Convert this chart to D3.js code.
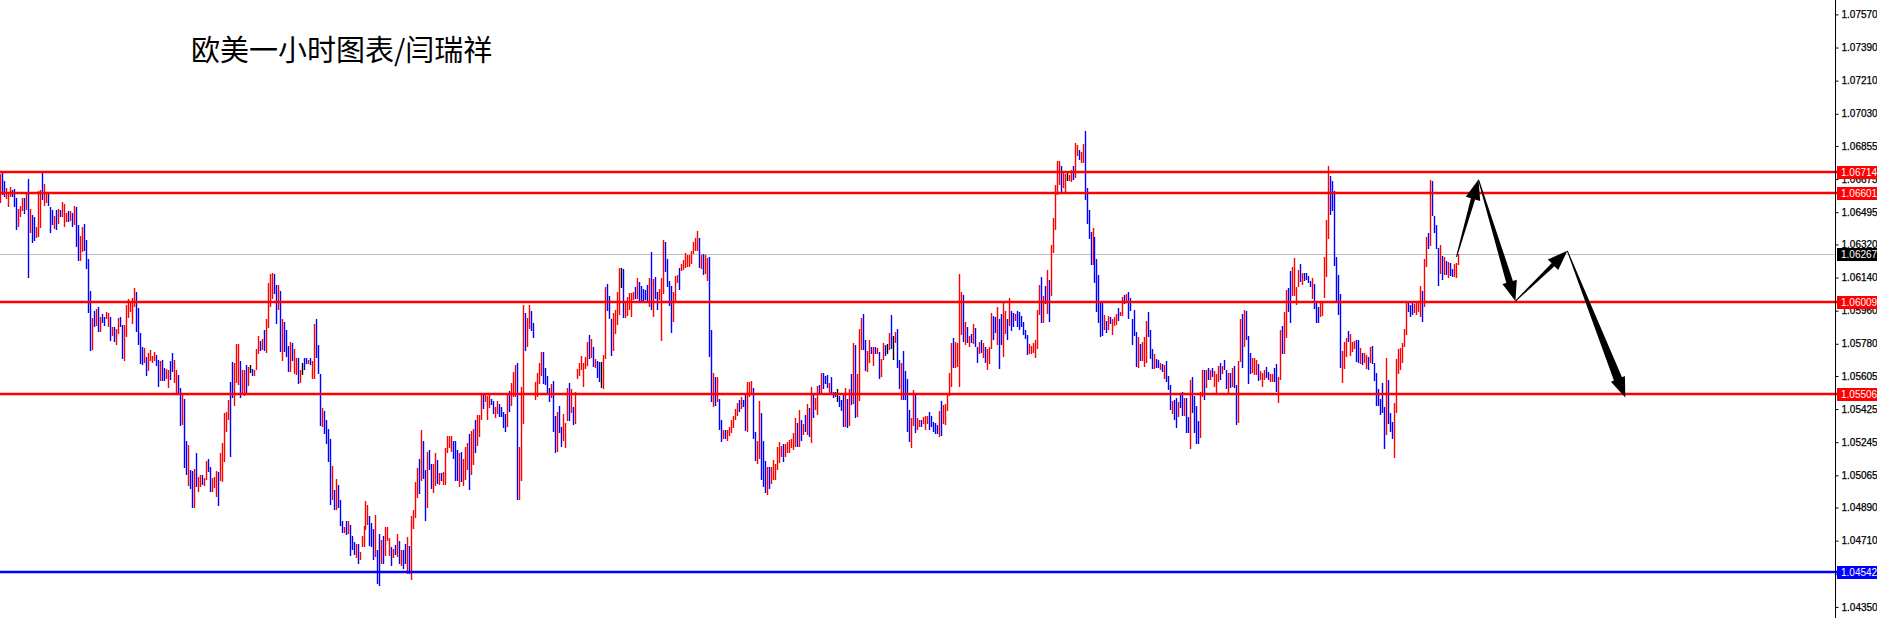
<!DOCTYPE html>
<html>
<head>
<meta charset="utf-8">
<script src="https://cdnjs.cloudflare.com/ajax/libs/d3/7.8.5/d3.min.js"></script>
<style>
  html, body { margin: 0; padding: 0; background: #fff; overflow: hidden; }
  svg { display: block; }
</style>
</head>
<body>
<svg id="chart" width="1877" height="618"></svg>
<script>
// hourly bars, EURUSD, oldest first
var highs = [
1.06701,1.06706,1.06667,1.06629,1.06607,1.06634,1.06616,1.06619,1.06572,1.06513,
1.06529,1.06571,1.06572,1.06592,1.06676,1.06513,1.06480,1.06471,1.06417,1.06610,
1.06616,1.06715,1.06648,1.06607,1.06601,1.06523,1.06507,1.06475,1.06507,1.06513,
1.06507,1.06552,1.06540,1.06493,1.06502,1.06502,1.06489,1.06529,1.06523,1.06426,
1.06366,1.06417,1.06429,1.06344,1.06241,1.06067,1.05918,1.05958,1.05969,1.05978,
1.05924,1.05942,1.05927,1.05954,1.05945,1.05924,1.05869,1.05873,1.05858,1.05918,
1.05924,1.05882,1.05882,1.05991,1.06022,1.06007,1.06029,1.06083,1.06061,1.05974,
1.05838,1.05762,1.05757,1.05708,1.05728,1.05746,1.05713,1.05737,1.05721,1.05692,
1.05688,1.05694,1.05646,1.05641,1.05637,1.05688,1.05732,1.05692,1.05636,1.05612,
1.05541,1.05511,1.05482,1.05251,1.05230,1.05094,1.05090,1.05097,1.05184,1.05054,
1.05067,1.05065,1.05048,1.05144,1.05154,1.05112,1.05052,1.05058,1.05090,1.05085,
1.05184,1.05239,1.05405,1.05411,1.05474,1.05570,1.05683,1.05674,1.05777,1.05779,
1.05686,1.05637,1.05637,1.05665,1.05655,
1.05667,1.05642,1.05636,1.05754,1.05821,1.05796,1.05805,1.05854,1.05912,1.06108,
1.06158,1.06162,1.06158,1.06098,1.06098,1.06066,1.05917,1.05896,1.05857,1.05767,
1.05789,1.05785,1.05754,1.05703,1.05703,1.05636,1.05674,1.05700,1.05702,1.05694,
1.05700,1.05687,1.05886,1.05914,1.05772,1.05618,1.05432,1.05414,1.05365,1.05316,
1.05263,1.05115,1.04984,1.05044,1.05011,1.04933,1.04817,1.04785,1.04817,1.04817,
1.04794,1.04736,1.04703,1.04694,1.04691,1.04649,1.04736,1.04788,1.04926,1.04903,
1.04845,1.04808,1.04776,1.04852,1.04658,1.04745,1.04716,1.04734,1.04785,1.04785,
1.04725,1.04676,1.04667,1.04685,1.04745,1.04709,1.04658,1.04658,1.04691,1.04730,
1.04681,1.04843,1.04875,1.05029,1.05105,1.05153,1.05310,1.05252,1.05093,1.05192,
1.05205,1.05125,1.05125,1.05187,1.05147,1.05075,1.05078,1.05084,1.05216,1.05278,
1.05279,1.05278,1.05250,1.05252,1.05202,1.05187,1.05192,1.05153,1.05220,1.05243,
1.05288,1.05307,1.05319,1.05365,1.05392,1.05392,1.05506,1.05506,1.05506,1.05495,
1.05506,1.05481,1.05470,1.05437,1.05470,
1.05452,1.05438,1.05410,1.05401,1.05506,1.05525,1.05568,1.05626,1.05664,1.05677,
1.05220,1.05543,1.05990,1.05949,1.05918,1.05990,1.05958,1.05894,1.05573,1.05622,
1.05677,1.05735,1.05737,1.05650,1.05604,1.05537,1.05564,1.05579,1.05389,1.05410,
1.05443,1.05329,1.05401,1.05351,1.05541,1.05568,1.05534,1.05434,1.05519,1.05642,
1.05673,1.05713,1.05673,1.05709,1.05791,1.05827,1.05804,1.05764,1.05695,1.05688,
1.05679,1.05679,1.05718,1.06086,1.06104,1.06039,1.05912,1.05945,1.05963,1.06061,
1.06190,1.06190,1.06184,1.05999,1.06032,1.06057,1.06057,1.06063,1.06090,1.06135,
1.06115,1.06094,1.06075,1.06072,1.06099,1.06135,1.06277,1.06130,1.06141,1.06059,
1.06077,1.06135,1.06344,1.06334,1.06238,1.06121,1.06094,1.06063,1.06148,1.06153,
1.06190,1.06211,1.06235,1.06275,1.06262,1.06262,1.06286,1.06334,1.06353,1.06392,
1.06356,1.06262,1.06267,1.06262,1.06244,1.06249,1.05854,1.05619,1.05597,1.05597,
1.05479,1.05365,1.05311,1.05311,1.05311,1.05329,1.05365,1.05387,1.05423,1.05459,
1.05474,1.05492,1.05477,1.05506,1.05573,
1.05573,1.05577,1.05541,1.05301,1.05251,1.05470,1.05405,1.05253,1.05144,1.05111,
1.05111,1.05111,1.05147,1.05129,1.05220,1.05247,1.05224,1.05234,1.05238,1.05247,
1.05256,1.05262,1.05296,1.05379,1.05350,1.05419,1.05365,1.05343,1.05392,1.05452,
1.05432,1.05546,1.05513,1.05486,1.05553,1.05555,1.05622,1.05622,1.05604,1.05608,
1.05568,1.05600,1.05519,1.05519,1.05532,1.05497,1.05474,1.05510,1.05537,1.05479,
1.05532,1.05615,1.05785,1.05773,1.05615,1.05860,1.05918,1.05941,1.05803,1.05742,
1.05803,1.05760,1.05760,1.05764,1.05758,1.05736,1.05695,1.05785,1.05773,1.05778,
1.05836,1.05936,1.05822,1.05845,1.05860,1.05691,1.05673,1.05742,1.05633,1.05591,
1.05419,1.05374,1.05528,1.05506,1.05374,1.05365,1.05365,1.05383,1.05387,1.05388,
1.05407,1.05388,1.05356,1.05347,1.05338,1.05414,1.05470,1.05446,1.05452,1.05501,
1.05622,1.05785,1.05814,1.05791,1.05782,1.06159,1.06062,1.06044,1.05899,1.05869,
1.05822,1.05832,1.05887,1.05863,1.05764,1.05791,1.05800,1.05782,1.05760,1.05754,
1.05760,1.05948,1.05930,1.05927,1.05981,1.05914,
1.05941,1.05999,1.05957,1.05917,1.06030,1.05957,1.05945,1.05941,1.05957,1.05954,
1.05930,1.05898,1.05854,1.05827,1.05778,1.05769,1.05785,1.05803,1.05966,1.06099,
1.06144,1.06039,1.06093,1.06180,1.06126,1.06316,1.06465,1.06642,1.06773,1.06773,
1.06746,1.06715,1.06702,1.06715,1.06698,1.06724,1.06746,1.06872,1.06860,1.06833,
1.06823,1.06865,1.06938,1.06624,1.06506,1.06389,1.06407,1.06358,1.06240,1.06153,
1.06008,1.06008,1.05936,1.05905,1.05930,1.05927,1.05912,1.05927,1.05941,1.05977,
1.05954,1.06035,1.06044,1.06053,1.06059,1.06030,1.05917,1.05963,1.05845,1.05818,
1.05778,1.05787,1.05818,1.05905,1.05954,1.05854,1.05754,1.05727,1.05696,1.05691,
1.05673,1.05669,1.05664,1.05687,1.05606,1.05555,1.05470,1.05477,1.05483,1.05464,
1.05501,1.05519,1.05486,1.05488,1.05383,1.05582,1.05597,1.05495,1.05441,1.05361,
1.05519,1.05637,1.05640,1.05640,1.05646,1.05640,1.05649,1.05633,1.05615,1.05658,
1.05673,1.05658,1.05691,1.05637,1.05619,1.05619,1.05649,1.05658,1.05555,1.05687,
1.05914,1.05941,1.05963,1.05959,1.05821,
1.05731,1.05700,1.05700,1.05691,1.05670,1.05633,1.05623,1.05637,1.05652,1.05628,
1.05615,1.05615,1.05650,1.05670,1.05601,1.05855,1.05876,1.05954,1.06072,1.06081,
1.06177,1.06199,1.06244,1.06090,1.06181,1.06213,1.06166,1.06166,1.06163,1.06148,
1.06123,1.06135,1.06105,1.06009,1.05981,1.06009,1.06014,1.06253,1.06452,1.06746,
1.06692,1.06666,1.06612,1.06253,1.06154,1.06048,1.05742,1.05791,1.05813,1.05849,
1.05831,1.05791,1.05795,1.05800,1.05800,1.05755,1.05728,1.05731,1.05719,1.05706,
1.05760,1.05768,1.05673,1.05623,1.05532,1.05478,1.05568,1.05438,1.05702,1.05583,
1.05405,1.05356,1.05456,1.05695,1.05749,1.05755,1.05782,1.05858,1.06009,1.06014,
1.05990,1.05999,1.05996,1.06003,1.06009,1.06094,1.06068,1.06239,1.06362,1.06384,
1.06670,1.06666,1.06474,1.06425,1.06298,1.06317,1.06257,1.06253,1.06230,1.06226,
1.06217,1.06184,1.06213,1.06217,1.06268
];
var lows = [
1.06547,1.06589,1.06580,1.06565,1.06525,1.06580,1.06580,1.06525,1.06398,1.06417,
1.06467,1.06502,1.06485,1.06507,1.06139,1.06384,1.06330,1.06339,1.06353,1.06359,
1.06411,1.06561,1.06529,1.06547,1.06529,1.06384,1.06426,1.06402,1.06398,1.06431,
1.06467,1.06471,1.06417,1.06444,1.06444,1.06449,1.06413,1.06426,1.06308,1.06232,
1.06232,1.06281,1.06286,1.06185,1.05949,1.05742,1.05746,1.05869,1.05877,1.05846,
1.05846,1.05895,1.05878,1.05913,1.05873,1.05797,1.05822,1.05790,1.05773,1.05833,
1.05869,1.05697,1.05688,1.05815,1.05922,1.05951,1.05886,1.05978,1.05846,1.05773,
1.05670,1.05665,1.05677,1.05607,1.05634,1.05686,1.05674,1.05688,1.05661,1.05547,
1.05579,1.05579,1.05579,1.05588,1.05538,1.05583,1.05625,1.05565,1.05511,1.05511,
1.05331,1.05338,1.05106,1.05065,1.05007,1.04990,1.04885,1.04890,1.05000,1.04972,
1.05000,1.05012,1.05007,1.05039,1.05085,1.04976,1.04972,1.04994,1.04945,1.04900,
1.05034,1.05027,1.05139,1.05302,1.05366,1.05166,1.05487,1.05442,1.05565,1.05556,
1.05487,1.05511,1.05498,1.05511,1.05550,
1.05622,1.05604,1.05604,1.05636,1.05723,1.05741,1.05745,1.05741,1.05731,1.05867,
1.05981,1.06021,1.06050,1.05890,1.05966,1.05736,1.05687,1.05736,1.05709,1.05627,
1.05627,1.05687,1.05618,1.05613,1.05562,1.05568,1.05609,1.05636,1.05669,1.05669,
1.05667,1.05587,1.05591,1.05703,1.05618,1.05332,1.05325,1.05292,1.05234,1.05138,
1.04903,1.04933,1.04875,1.04875,1.04890,1.04790,1.04754,1.04749,1.04739,1.04745,
1.04627,1.04658,1.04631,1.04618,1.04585,1.04607,1.04676,1.04676,1.04770,1.04797,
1.04681,1.04676,1.04607,1.04622,1.04477,1.04464,1.04585,1.04585,1.04625,1.04709,
1.04625,1.04573,1.04616,1.04631,1.04622,1.04585,1.04571,1.04558,1.04585,1.04531,
1.04527,1.04498,1.04776,1.04834,1.04944,1.04962,1.05035,1.05044,1.04817,1.04890,
1.05093,1.04993,1.04970,1.05006,1.05020,1.05011,1.05035,1.05011,1.05011,1.05187,
1.05211,1.05192,1.05156,1.05035,1.05035,1.05002,1.05030,1.05006,1.05042,1.05096,
1.04988,1.05066,1.05120,1.05187,1.05225,1.05274,1.05368,1.05428,1.05464,1.05368,
1.05433,1.05446,1.05401,1.05374,1.05397,
1.05383,1.05383,1.05320,1.05302,1.05329,1.05410,1.05441,1.05492,1.05492,1.04930,
1.04930,1.05035,1.05343,1.05742,1.05760,1.05858,1.05851,1.05813,1.05474,1.05492,
1.05564,1.05604,1.05559,1.05555,1.05506,1.05465,1.05483,1.05302,1.05184,1.05193,
1.05293,1.05220,1.05253,1.05211,1.05361,1.05361,1.05405,1.05338,1.05342,1.05590,
1.05604,1.05637,1.05546,1.05641,1.05660,1.05695,1.05700,1.05655,1.05651,1.05595,
1.05573,1.05537,1.05532,1.05695,1.05959,1.05914,1.05713,1.05742,1.05833,1.05882,
1.05936,1.06084,1.05918,1.05918,1.05932,1.05963,1.05923,1.06017,1.06026,1.06023,
1.06008,1.06014,1.06003,1.06017,1.05999,1.05981,1.05963,1.05923,1.06026,1.05963,
1.06017,1.05796,1.06050,1.06171,1.06086,1.05985,1.05840,1.05900,1.06008,1.06108,
1.06072,1.06177,1.06180,1.06190,1.06199,1.06199,1.06213,1.06267,1.06286,1.06286,
1.06190,1.06184,1.06153,1.06159,1.06122,1.05709,1.05465,1.05434,1.05443,1.05465,
1.05314,1.05244,1.05260,1.05260,1.05253,1.05278,1.05293,1.05320,1.05365,1.05387,
1.05410,1.05423,1.05434,1.05307,1.05302,
1.05492,1.05506,1.05265,1.05144,1.05129,1.05156,1.05039,1.05000,1.04970,1.04960,
1.04990,1.05020,1.05040,1.05039,1.05093,1.05133,1.05162,1.05138,1.05166,1.05187,
1.05184,1.05214,1.05202,1.05220,1.05220,1.05220,1.05253,1.05283,1.05301,1.05283,
1.05274,1.05242,1.05379,1.05419,1.05392,1.05510,1.05501,1.05532,1.05561,1.05542,
1.05510,1.05506,1.05483,1.05492,1.05465,1.05437,1.05414,1.05329,1.05329,1.05320,
1.05332,1.05446,1.05452,1.05374,1.05383,1.05470,1.05745,1.05745,1.05633,1.05628,
1.05677,1.05724,1.05658,1.05724,1.05727,1.05591,1.05600,1.05691,1.05713,1.05724,
1.05745,1.05754,1.05691,1.05785,1.05646,1.05532,1.05477,1.05477,1.05474,1.05301,
1.05247,1.05216,1.05332,1.05296,1.05314,1.05325,1.05329,1.05343,1.05314,1.05343,
1.05314,1.05329,1.05298,1.05292,1.05289,1.05271,1.05280,1.05343,1.05341,1.05416,
1.05495,1.05546,1.05646,1.05646,1.05655,1.05546,1.05827,1.05791,1.05773,1.05785,
1.05764,1.05785,1.05778,1.05760,1.05673,1.05724,1.05731,1.05700,1.05673,1.05640,
1.05669,1.05749,1.05800,1.05836,1.05773,1.05642,
1.05773,1.05709,1.05832,1.05800,1.05876,1.05850,1.05872,1.05905,1.05872,1.05854,
1.05869,1.05825,1.05805,1.05718,1.05727,1.05727,1.05731,1.05705,1.05753,1.05937,
1.05894,1.05894,1.05995,1.05941,1.05899,1.06039,1.06271,1.06401,1.06588,1.06642,
1.06597,1.06624,1.06606,1.06666,1.06666,1.06660,1.06669,1.06679,1.06800,1.06778,
1.06764,1.06764,1.06561,1.06430,1.06349,1.06209,1.06207,1.06111,1.05954,1.05894,
1.05818,1.05823,1.05854,1.05840,1.05854,1.05887,1.05827,1.05876,1.05881,1.05903,
1.05932,1.05930,1.05995,1.05999,1.05912,1.05957,1.05773,1.05821,1.05655,1.05646,
1.05687,1.05687,1.05655,1.05678,1.05818,1.05695,1.05642,1.05642,1.05646,1.05646,
1.05637,1.05628,1.05591,1.05573,1.05528,1.05419,1.05401,1.05365,1.05320,1.05383,
1.05432,1.05387,1.05387,1.05296,1.05296,1.05207,1.05405,1.05296,1.05238,1.05238,
1.05269,1.05492,1.05474,1.05542,1.05582,1.05582,1.05600,1.05546,1.05510,1.05573,
1.05582,1.05615,1.05637,1.05532,1.05510,1.05541,1.05546,1.05542,1.05341,1.05347,
1.05682,1.05646,1.05763,1.05800,1.05564,
1.05615,1.05619,1.05610,1.05610,1.05579,1.05583,1.05543,1.05583,1.05592,1.05583,
1.05574,1.05574,1.05574,1.05519,1.05460,1.05583,1.05724,1.05724,1.05809,1.05954,
1.05894,1.06039,1.06039,1.05990,1.06090,1.06117,1.06099,1.06123,1.06126,1.06112,
1.06086,1.06021,1.05967,1.05894,1.05894,1.05927,1.05931,1.06027,1.06144,1.06347,
1.06480,1.06503,1.06202,1.05999,1.05936,1.05646,1.05565,1.05643,1.05706,1.05791,
1.05713,1.05737,1.05749,1.05682,1.05677,1.05670,1.05664,1.05673,1.05641,1.05637,
1.05677,1.05670,1.05579,1.05441,1.05443,1.05392,1.05402,1.05206,1.05284,1.05342,
1.05302,1.05260,1.05157,1.05402,1.05614,1.05637,1.05673,1.05764,1.05827,1.05954,
1.05923,1.05936,1.05945,1.05936,1.05954,1.05927,1.05900,1.05981,1.06195,1.06293,
1.06311,1.06474,1.06384,1.06293,1.06094,1.06159,1.06126,1.06154,1.06154,1.06135,
1.06148,1.06141,1.06141,1.06135,1.06208
];
// r = bull bar, b = bear bar, k = open equals close
var dirs = (
  "rbbrrrbbbrrrbrbrbbrrrbrrbbbrbrbrrrbrbrbbrrbbbbrbrbrbbrrbrbrrbbrrrrrrbbbbrbrrrrbbrbbrrbbrrbbrbbrbbrbrrbrrbbrrrbrrrrrbbrrrbrrbr" +
  "kbrrrbrbrrrrbbrbrbbbrbrrbrkbbrbrrbbbrbbbbrbrbbbrbrbbbrbrrrrrbbbrbbrbrrrbrbrbrbbrbrrrrbrbbrbbrrbrbrrrrrbbbrbrrrbrrbrrrbrrrbbrr" +
  "bbbbrbrrrbrrrbrrbbrrrrbbbbrbbrbbrrrbrbrrrrrrrbrbrbbkrrbbbrrrrkbrrrrrbrbbbbbrbrbbrrrbbbbrrrbrrrrrrrrrbrbrrbbrbrbbrbrrrrrrbrbbr" +
  "rrbbrrbbbrbrrrrrrbrrrrrrbrbrbrbrbrrbrbbbrbbbkbbbrbrbrbrrrbbrrbrbrbrrbkrbkrbbrbbbbrrbrrbrrrbbbbbrbrrrrrbrrrrbrbrbrbbrbrbrrrbbrb" +
  "brrbrbbrbbbbbbrrrrrrbrbrbrrrrrbrrkrrbrrbrrbbbbrbbbbbrbrbrrrbrrbrbbbbbrbrrrbbbrbbrbrbbbrbbrbbrbbrbbbbrrbrbrbrrrbrbbrbrbbrrbrbb" +
  "brrrbrrrbbrrbbrrbrrbbrrrrbrbbbbrbbbrrrrrbbbbbbrrrbrrrbbrbrrbrbbbbbbbrbbbrrrrrrrbbbrrrrbrrbrbbbbrbrbrbbrrr"
).split("");

var axisTicks = [1.07570, 1.07390, 1.07210, 1.07030, 1.06855, 1.06675, 1.06495, 1.06320, 1.06140,
                 1.05960, 1.05780, 1.05605, 1.05425, 1.05245, 1.05065, 1.04890, 1.04710, 1.04530, 1.04350];
var resistance = [1.06714, 1.06601, 1.06009, 1.05506];
var support = 1.04542;
var bid = 1.06267;
// hand drawn path of the forecast, bar index / price
var pathIdx = [729, 740, 758.5, 784.5, 813.5];
var pathPrice = [1.06252, 1.06672, 1.06012, 1.06285, 1.05488];
var title = "欧美一小时图表/闫瑞祥";

var svg = d3.select("#chart"),
    width = +svg.attr("width"),
    height = +svg.attr("height"),
    axisX = 1835;

var y = d3.scaleLinear().domain([1.04350, 1.07570]).range([606.9, 14.4]);
var x = d3.scaleLinear().domain([0, highs.length - 1]).range([0.5, 1458.5]);
var colors = { r: "#ff0000", b: "#0000ff", k: "#000000" };
var px = function(v) { return Math.round(y(v)); };

svg.append("rect").attr("width", width).attr("height", height).attr("fill", "#fff");

// bid line sits behind the bars
svg.append("line")
    .attr("x1", 0).attr("x2", axisX)
    .attr("y1", px(bid) + 0.5).attr("y2", px(bid) + 0.5)
    .attr("stroke", "#c0c0c0").attr("stroke-width", 1);

svg.append("g")
  .selectAll("rect")
  .data(highs)
  .enter().append("rect")
    .attr("x", function(d, i) { return Math.floor(x(i)) - 0.2; })
    .attr("y", function(d) { return px(d); })
    .attr("width", 1.4)
    .attr("height", function(d, i) { return Math.max(1, px(lows[i]) - px(d)); })
    .attr("fill", function(d, i) { return colors[dirs[i]]; });

var levels = svg.append("g");
levels.selectAll("rect.res")
  .data(resistance)
  .enter().append("rect")
    .attr("class", "res")
    .attr("x", 0).attr("width", axisX + 2)
    .attr("y", function(d) { return px(d) - 1.25; })
    .attr("height", 2.5)
    .attr("fill", "#ff0000");

levels.append("rect")
    .attr("x", 0).attr("width", axisX + 2)
    .attr("y", px(support) - 1.25).attr("height", 2.5)
    .attr("fill", "#0000ff");

// forecast arrows
function arrowShape(p0, p1) {
    var dx = p1[0] - p0[0], dy = p1[1] - p0[1];
    var len = Math.sqrt(dx * dx + dy * dy);
    var ux = dx / len, uy = dy / len, nx = -uy, ny = ux;
    var headL = 20, headW = 15, w0 = 1, w1 = Math.max(4, len * 0.055);
    var bx = p1[0] - ux * headL, by = p1[1] - uy * headL;
    var pts = [
        [p0[0] + nx * w0 / 2, p0[1] + ny * w0 / 2],
        [bx + nx * w1 / 2, by + ny * w1 / 2],
        [bx + nx * headW / 2, by + ny * headW / 2],
        [p1[0], p1[1]],
        [bx - nx * headW / 2, by - ny * headW / 2],
        [bx - nx * w1 / 2, by - ny * w1 / 2],
        [p0[0] - nx * w0 / 2, p0[1] - ny * w0 / 2]
    ];
    return "M" + pts.map(function(p) { return p[0].toFixed(1) + "," + p[1].toFixed(1); }).join("L") + "Z";
}
var pathPts = pathIdx.map(function(d, i) { return [x(d), y(pathPrice[i])]; });
svg.append("g").selectAll("path")
  .data(d3.pairs(pathPts))
  .enter().append("path")
    .attr("d", function(d) { return arrowShape(d[0], d[1]); })
    .attr("fill", "#000");

// price scale
svg.append("line")
    .attr("x1", axisX + 0.5).attr("x2", axisX + 0.5)
    .attr("y1", 0).attr("y2", height)
    .attr("stroke", "#000").attr("stroke-width", 1);

var yAxis = svg.append("g")
    .attr("transform", "translate(" + (axisX + 0.5) + ",0)")
    .call(d3.axisRight(y).tickValues(axisTicks).tickFormat(d3.format(".5f")).tickSize(3).tickPadding(3));
yAxis.select(".domain").remove();
yAxis.selectAll("text")
    .attr("font-family", "Liberation Sans, Arial, sans-serif")
    .attr("font-size", "10px")
    .attr("fill", "#000")
    .attr("stroke", "#000")
    .attr("stroke-width", 0.25);

function priceTag(value, bg) {
    var g = svg.append("g").attr("transform", "translate(" + (axisX + 2) + "," + px(value) + ")");
    g.append("rect").attr("x", 0).attr("y", -6).attr("width", width - axisX - 2).attr("height", 13).attr("fill", bg);
    g.append("text").attr("x", 4).attr("y", 0.5).attr("dy", "0.35em")
        .attr("font-family", "Liberation Sans, Arial, sans-serif")
        .attr("font-size", "10px").attr("fill", "#fff")
        .text(d3.format(".5f")(value));
}
resistance.forEach(function(v) { priceTag(v, "#ff0000"); });
priceTag(bid, "#000000");
priceTag(support, "#0000ff");

svg.append("text")
    .attr("x", 191).attr("y", 61)
    .attr("font-family", "Noto Sans CJK SC, sans-serif")
    .attr("font-size", "29px")
    .attr("fill", "#000")
    .text(title);
</script>
</body>
</html>
